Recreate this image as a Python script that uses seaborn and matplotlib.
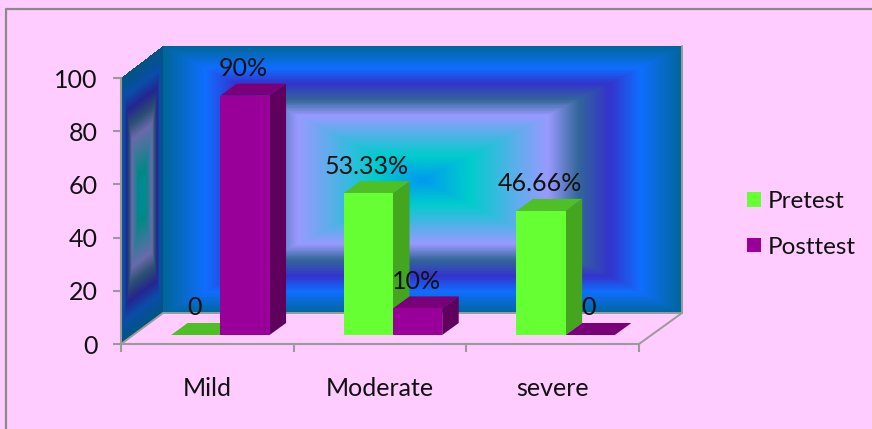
import numpy as np
import pandas as pd
import matplotlib
matplotlib.use("Agg")
import matplotlib.pyplot as plt
from matplotlib.colors import LinearSegmentedColormap
from matplotlib.patches import Polygon
import seaborn as sns

categories = ["Mild", "Moderate", "severe"]
series_names = ["Pretest", "Posttest"]
pretest = [0, 53.33, 46.66]
posttest = [90, 10, 0]
pretest_labels = ["0", "53.33%", "46.66%"]
posttest_labels = ["90%", "10%", "0"]
y_ticks = [0, 20, 40, 60, 80, 100]

PAGE = "#FFCCFF"
GREY = "#9A9A9A"
FACE = {"Pretest": "#66FF33", "Posttest": "#990099"}
SIDE = {"Pretest": "#44A51F", "Posttest": "#5F005F"}
TOP = {"Pretest": "#4FBF26", "Posttest": "#7A007A"}

W, H = 872, 429
sns.set_theme(style="white")
plt.rcParams["font.family"] = ["Lato", "DejaVu Sans"]
FS = 18

fig = plt.figure(figsize=(W / 100, H / 100), dpi=100, facecolor=PAGE)


def px_rect(x0, y_bottom, x1, y_top):
    """Axes rectangle from pixel coordinates measured from the top left."""
    return [x0 / W, (H - y_bottom) / H, (x1 - x0) / W, (y_bottom - y_top) / H]


# Page layer: frame lines, back wall, side wall and floor outline
page = fig.add_axes([0, 0, 1, 1], zorder=0)
page.set_xlim(0, W)
page.set_ylim(H, 0)
page.axis("off")
page.plot([6, 6, W], [H, 9, 9], color="#8A8A8A", lw=1.6)

peacock_stops = [0.00, 0.18, 0.48, 0.60, 0.72, 0.84, 1.00]
peacock = LinearSegmentedColormap.from_list(
    "peacock",
    list(zip(peacock_stops, ["#0099EE", "#00CCCC", "#9999FF", "#336699",
                             "#3333CC", "#0F6EFF", "#006699"])),
)
peacock_shade = LinearSegmentedColormap.from_list(
    "peacock_shade",
    list(zip(peacock_stops, ["#008A99", "#008888", "#6A6AAA", "#2A4F72",
                             "#25258F", "#0A4CAA", "#00557F"])),
)
u, v = np.meshgrid(np.linspace(-1, 1, 520), np.linspace(-1, 1, 360))
ring = np.maximum(np.abs(u), np.abs(v))[:-1, :-1]

wall_x = 163 + (682 - 163) * (u + 1) / 2
wall_y = 46 + (313 - 46) * (v + 1) / 2
page.pcolormesh(wall_x, wall_y, ring, cmap=peacock, vmin=0, vmax=1,
                shading="flat", rasterized=True, linewidth=0)

s = (u + 1) / 2
side_x = 121 + 42 * s
side_top = 78 - 32 * s
side_bottom = 344 - 31 * s
side_y = side_top + (side_bottom - side_top) * (v + 1) / 2
page.pcolormesh(side_x, side_y, ring, cmap=peacock_shade, vmin=0, vmax=1,
                shading="flat", rasterized=True, linewidth=0)

page.plot([121, 163, 682, 682], [344, 313, 313, 46], color=GREY, lw=1.4)
page.plot([682, 639], [313, 344], color=GREY, lw=1.4)

# Axis layer: the value scale and category labels on the front plane
frame = fig.add_axes(px_rect(121, 344, 639, 78), zorder=1)
frame.patch.set_alpha(0)
frame.set_xlim(0, 3)
frame.set_ylim(0, 100)
for name in ("top", "right"):
    frame.spines[name].set_visible(False)
for name in ("left", "bottom"):
    frame.spines[name].set_color(GREY)
    frame.spines[name].set_linewidth(1.5)
frame.set_yticks(y_ticks)
frame.set_xticks(range(len(categories) + 1))
frame.set_xticklabels([])
frame.set_xticks(np.arange(len(categories)) + 0.5, minor=True)
frame.set_xticklabels(categories, minor=True)
frame.tick_params(axis="y", left=True, length=5.8, width=1.5, color=GREY, pad=11,
                  labelsize=FS, labelcolor="#111111")
frame.tick_params(axis="x", which="major", bottom=True, length=6, width=1.5, color=GREY)
frame.tick_params(axis="x", which="minor", bottom=False, length=0, pad=23.5,
                  labelsize=FS, labelcolor="#111111")

# Bar layer: seaborn draws the front faces, the same rectangles give the depth
bars = fig.add_axes(px_rect(134, 335, 652, 69), zorder=2)
bars.patch.set_alpha(0)

table = pd.DataFrame({
    "category": categories * 2,
    "series": [series_names[0]] * 3 + [series_names[1]] * 3,
    "value": pretest + posttest,
})
sns.barplot(data=table, x="category", y="value", hue="series", order=categories,
            hue_order=series_names, palette=FACE, width=0.57, gap=0, saturation=1,
            errorbar=None, ax=bars, linewidth=0)
bars.set_xlim(-0.5, 2.5)
bars.set_ylim(0, 100)
bars.axis("off")

depth_x = 16.5 / (518 / 3)
depth_y = 12 / 2.66

rects = []
for container, name, labels in zip(bars.containers, series_names,
                                   [pretest_labels, posttest_labels]):
    for patch, text in zip(container, labels):
        rects.append((patch, name, text))
rects.sort(key=lambda item: item[0].get_x())

for i, (patch, name, text) in enumerate(rects):
    x0, x1 = patch.get_x(), patch.get_x() + patch.get_width()
    y1 = patch.get_height()
    patch.set_zorder(3 * i + 3)
    patch.set_clip_on(False)
    bars.add_patch(Polygon(
        [(x1, 0), (x1 + depth_x, depth_y), (x1 + depth_x, y1 + depth_y), (x1, y1)],
        closed=True, facecolor=SIDE[name], edgecolor="none", zorder=3 * i + 1, clip_on=False))
    bars.add_patch(Polygon(
        [(x0, y1), (x0 + depth_x, y1 + depth_y), (x1 + depth_x, y1 + depth_y), (x1, y1)],
        closed=True, facecolor=TOP[name], edgecolor="none", zorder=3 * i + 2, clip_on=False))
    bars.annotate(text, ((x0 + x1) / 2, y1), xytext=(-1, 19.5), textcoords="offset points",
                  ha="center", va="center", fontsize=FS, color="#111111",
                  zorder=100, annotation_clip=False)

handles, labels = bars.get_legend_handles_labels()
bars.legend(handles, labels, loc="center left", bbox_to_anchor=(747 / W, 1 - 224.5 / H),
            bbox_transform=fig.transFigure, frameon=False, fontsize=17.5,
            handlelength=0.56, handleheight=0.56, handletextpad=0.3, labelspacing=1.0,
            borderpad=0, borderaxespad=0, labelcolor="#111111")

fig.savefig("out.png", dpi=100, facecolor=PAGE)
